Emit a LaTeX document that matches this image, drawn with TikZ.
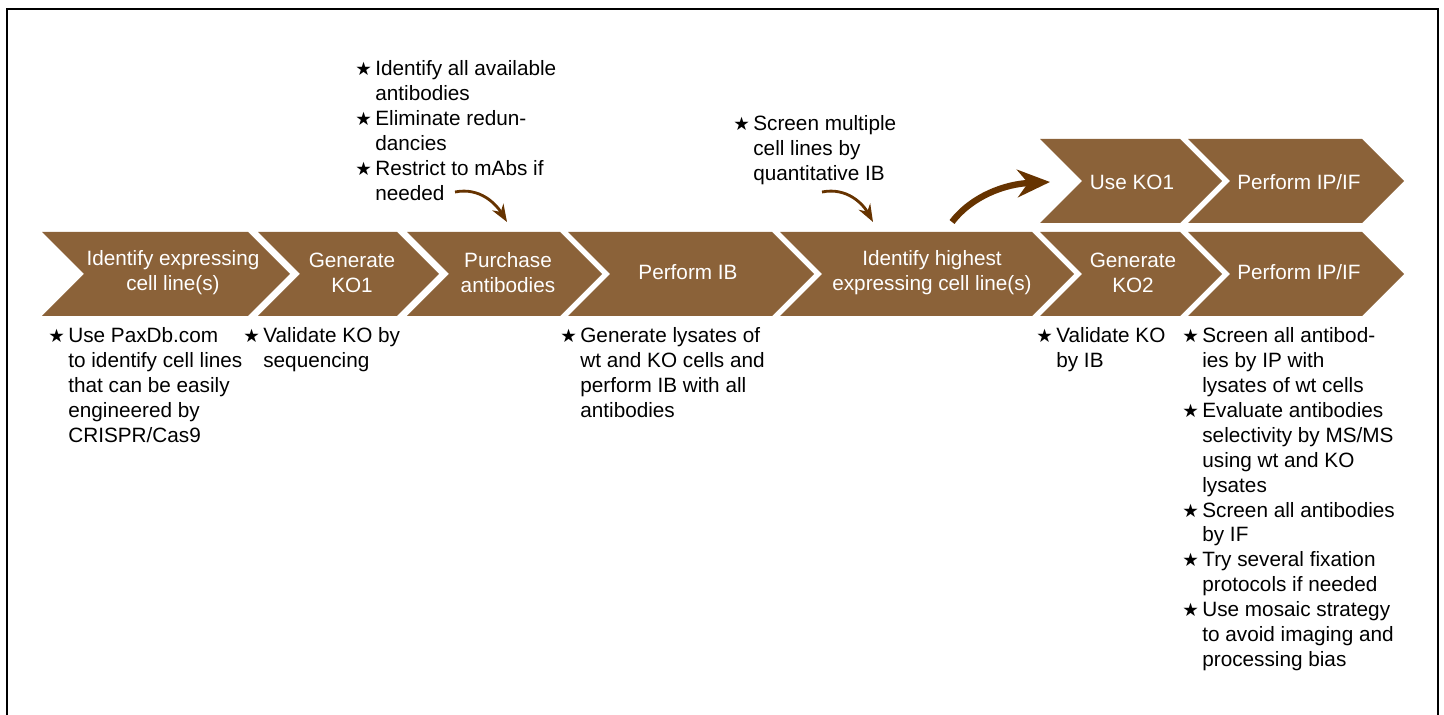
\documentclass[tikz,border=0pt]{standalone}
\usepackage{fontspec}
\setmainfont{Liberation Sans}
\newfontfamily\starfont{DejaVu Sans}
\usetikzlibrary{arrows.meta}
\definecolor{chevbrown}{RGB}{139,98,57}
\definecolor{arrbrown}{RGB}{102,51,0}
\newcommand\bul{\llap{{\starfont\fontsize{10.5}{10.5}\selectfont ★}\hspace{2pt}}}

\begin{document}
\begin{tikzpicture}[
  x=0.02cm, y=-0.02cm,
  chevtext/.style={
    text=white, font=\fontsize{11.8}{14.2}\selectfont, align=center
  },
  notes/.style={
    anchor=north west, font=\fontsize{11.8}{14.2}\selectfont,
    align=left, inner sep=0pt
  },
  hint/.style={
    -{Stealth[length=3.5mm, width=2.6mm]}, color=arrbrown, line width=1.6pt
  },
  jump/.style={
    -{Stealth[length=6.5mm, width=5.5mm]}, color=arrbrown, line width=3.6pt
  }
]
\useasboundingbox (0,0) rectangle (1444,715);

% Frame
\draw[line width=1.1pt] (7,715) -- (7,9) -- (1438,9) -- (1438,715);

% Chevrons (left x / right x / middle y)
\foreach \xa/\xb/\ym in {42/248/274, 258/397/274, 407/560/274, 568/772/274,
    780/1032/274, 1040/1180/274, 1188/1362/274, 1040/1180/181, 1188/1362/181}
  \fill[chevbrown] (\xa,\ym-42) -- (\xb,\ym-42) -- (\xb+42,\ym)
    -- (\xb,\ym+42) -- (\xa,\ym+42) -- (\xa+42,\ym) -- cycle;

% Step labels
\node[chevtext] (ident)   at (173,273)  {Identify expressing\\cell line(s)};
\node[chevtext] (genko1)  at (352,273)  {Generate\\KO1};
\node[chevtext] (purch)   at (508,273)  {Purchase\\antibodies};
\node[chevtext] (perfib)  at (688,272)  {Perform IB};
\node[chevtext] (high)    at (932,273)  {Identify highest\\expressing cell line(s)};
\node[chevtext] (genko2)  at (1133,273) {Generate\\KO2};
\node[chevtext] (perfko2) at (1299,272) {Perform IP/IF};
\node[chevtext] (useko1)  at (1132,182) {Use KO1};
\node[chevtext] (perfko1) at (1299,182) {Perform IP/IF};

% Notes above
\node[notes] (noteab) at (375,60) {\bul Identify all available\\antibodies\\
  \bul Eliminate redun-\\dancies\\\bul Restrict to mAbs if\\needed};
\node[notes] (notescr) at (753,115) {\bul Screen multiple\\cell lines by\\quantitative IB};

% Notes below
\node[notes] (noteident) at (68,327) {\bul Use PaxDb.com\\to identify cell lines\\
  that can be easily\\engineered by\\CRISPR/Cas9};
\node[notes] (noteko1) at (263,327) {\bul Validate KO by\\sequencing};
\node[notes] (noteib) at (580,327) {\bul Generate lysates of\\wt and KO cells and\\
  perform IB with all\\antibodies};
\node[notes] (noteko2) at (1056,327) {\bul Validate KO\\by IB};
\node[notes] (noteip) at (1202,327) {\bul Screen all antibod-\\ies by IP with\\
  lysates of wt cells\\\bul Evaluate antibodies\\selectivity by MS/MS\\
  using wt and KO\\lysates\\\bul Screen all antibodies\\by IF\\
  \bul Try several fixation\\protocols if needed\\\bul Use mosaic strategy\\
  to avoid imaging and\\processing bias};

% Curved arrows
\coordinate (h1s) at (455,192);
\coordinate (h1e) at (507,222);
\coordinate (h2s) at (822,192);
\coordinate (h2e) at (873,222);
\coordinate (js)  at (952,222);
\coordinate (je)  at (1050,182);
\draw[hint] (h1s) .. controls (480,187) and (496,204) .. (h1e);
\draw[hint] (h2s) .. controls (847,187) and (863,204) .. (h2e);
\draw[jump] (js) .. controls (972,196) and (1005,184) .. (je);

\end{tikzpicture}
\end{document}
